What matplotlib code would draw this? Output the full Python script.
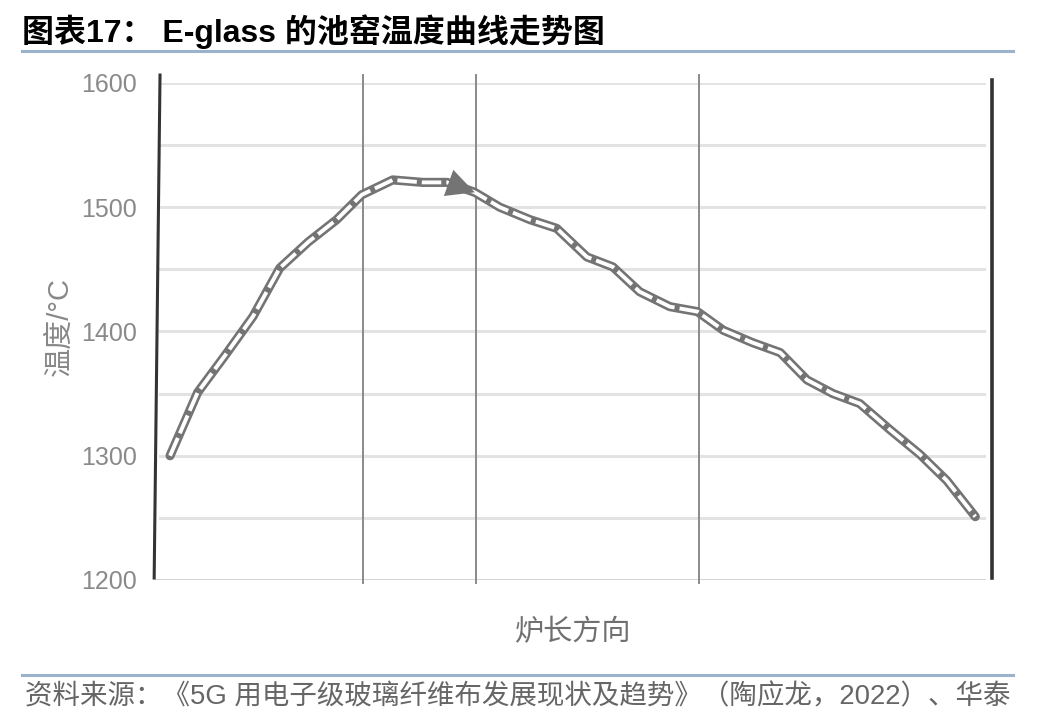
import matplotlib
matplotlib.use('Agg')
import matplotlib.pyplot as plt

# Position along the furnace (0-100, no units on the chart) and temperature
position = [1.8, 5.1, 8.4, 11.7, 14.9, 18.3, 21.7, 24.7, 28.4, 32.0, 34.9, 38.2,
            41.2, 44.8, 48.0, 51.6, 54.7, 57.9, 61.5, 64.8, 67.9, 71.4, 74.7,
            77.9, 81.0, 84.2, 87.8, 91.4, 94.6, 98.0]
temperature = [1300, 1351, 1381, 1412, 1451, 1472, 1490, 1510, 1522, 1520, 1520, 1512,
               1500, 1490, 1483, 1460, 1452, 1432, 1420, 1416, 1401, 1391, 1383,
               1361, 1350, 1342, 1321, 1301, 1280, 1251]
arrow_idx = 11  # arrow head sits on this point

y_ticks = [1200, 1300, 1400, 1500, 1600]
y_grid = [1250, 1300, 1350, 1400, 1450, 1500, 1550, 1600]
zone_lines = [24.9, 38.4, 65.0]

TITLE = '图表17： E-glass 的池窑温度曲线走势图'
SOURCE = '资料来源：《5G 用电子级玻璃纤维布发展现状及趋势》（陶应龙，2022）、华泰'

plt.rcParams['font.family'] = ['Liberation Sans', 'Noto Sans CJK SC']

fig = plt.figure(figsize=(10.48, 7.28), dpi=100, facecolor='white')
ax = fig.add_axes([0.1479, 0.2033, 0.7987, 0.6827])
ax.set_xlim(0, 100)
ax.set_ylim(1200, 1600)

for s in ax.spines.values():
    s.set_visible(False)

# horizontal grid
for v in y_grid:
    ax.axhline(v, xmin=0.006, xmax=0.99, color='#e3e3e3', lw=2.2, zorder=1)
ax.axhline(1200, xmin=0.0, xmax=0.99, color='#cfcfcf', lw=2.0, zorder=1)

# zone separators
for xv in zone_lines:
    ax.axvline(xv, ymin=-0.006, ymax=1.016, color='#8a8a8a', lw=1.4,
               clip_on=False, zorder=2)

# left / right frame lines (left one leans a little, like the scan)
ax.plot([-0.001, 0.006], [0.004, 1.016], transform=ax.transAxes, color='#333333',
        lw=2.2, clip_on=False, zorder=3)
ax.axvline(100, ymin=0.004, ymax=1.006, color='#333333', lw=2.6,
           clip_on=False, zorder=3)

# temperature curve: grey tube with dashed white core
ax.plot(position, temperature, color='#747474', lw=6.6,
        solid_capstyle='round', solid_joinstyle='round', zorder=4)
ax.plot(position, temperature, color='white', lw=2.8, dashes=(5.0, 1.3),
        dash_capstyle='butt', zorder=5)

ax.annotate('', xy=(position[arrow_idx], temperature[arrow_idx]),
            xytext=(position[arrow_idx - 1], temperature[arrow_idx - 1]),
            arrowprops=dict(arrowstyle='-|>,head_length=1.0,head_width=0.5',
                            mutation_scale=20, fc='#747474', ec='#747474',
                            lw=0, shrinkA=0, shrinkB=0),
            zorder=6)

ax.set_xticks([])
ax.set_yticks(y_ticks)
ax.set_yticklabels([str(t) for t in y_ticks], fontsize=18, color='#8a8a8a')
ax.tick_params(axis='y', length=0, pad=13)

fig.text(0.057, 0.551, '温度/°C', rotation=90, ha='center', va='center',
         fontsize=21, color='#888888')
fig.text(0.547, 0.132, '炉长方向', ha='center', va='center',
         fontsize=21, color='#707070')

# title and source
fig.text(0.021, 0.956, TITLE, ha='left', va='center', fontsize=23,
         fontweight='bold', color='black')
fig.add_artist(plt.Line2D([0.021, 0.967], [0.930, 0.930], color='#9bb1cc', lw=2.2))
fig.add_artist(plt.Line2D([0.021, 0.967], [0.0728, 0.0728], color='#9bb1cc', lw=2.2))
fig.text(0.024, 0.042, SOURCE, ha='left', va='center', fontsize=19.8,
         color='#666666')

fig.savefig('out.png', dpi=100, facecolor='white')
